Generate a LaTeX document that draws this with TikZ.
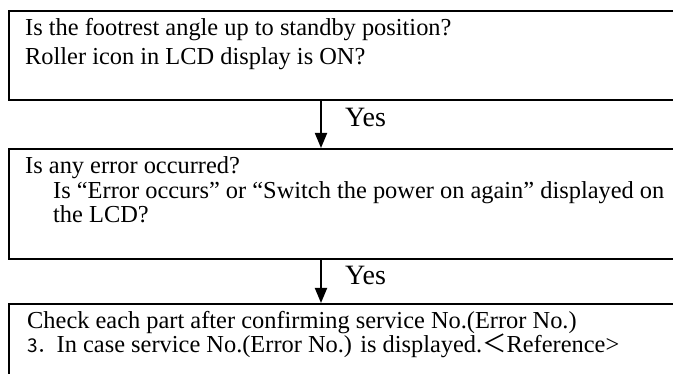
\documentclass[tikz,border=0pt]{standalone}
\usepackage{fontspec}
\setmainfont{Liberation Serif}
\newfontfamily\cjk{Noto Sans CJK JP}
\usetikzlibrary{arrows.meta}

\begin{document}
\begin{tikzpicture}[x=1pt,y=-1pt,
    stepbox/.style={draw,line width=1.8pt,anchor=north west,inner sep=0pt,minimum width=720pt},
    boxtext/.style={anchor=base west,inner sep=0pt,align=left,font=\fontsize{24.4}{24.8}\selectfont},
    flow/.style={line width=1.8pt,-{Triangle[length=15pt,width=12pt]}},
    yes/.style={anchor=base west,inner sep=0pt,font=\fontsize{28}{30}\selectfont}]
      \useasboundingbox (0,0) rectangle (673,374);
      \clip (0,0) rectangle (673,374);
      % the three boxes, cut off at the right edge
      \node[stepbox,minimum height=89pt] (q1) at (8,10) {};
      \node[stepbox,minimum height=110pt] (q2) at (8,148) {};
      \node[stepbox,minimum height=100pt] (q3) at (8,303) {};
      % texts (base = last line)
      \node[boxtext,font=\fontsize{24.4}{29}\selectfont] (t1) at (25,65)
        {Is the footrest angle up to standby position?\\
         Roller icon in LCD display is ON?};
      \node[boxtext] (t2) at (25,223)
        {Is any error occurred?\\
         \hspace*{28pt}Is “Error occurs” or “Switch the power on again” displayed on\\
         \hspace*{28pt}the LCD?};
      \node[boxtext] (t3) at (27,353)
        {Check each part after confirming service No.(Error No.)\\
         {\cjk\fontsize{19}{25}\selectfont 3．}In case service No.(Error No.) is displayed.{\cjk ＜}Reference>};
      % arrows
      \draw[flow] ([xshift=313pt]q1.south west) -- ([xshift=313pt]q2.north west);
      \draw[flow] ([xshift=313pt]q2.south west) -- ([xshift=313pt]q3.north west);
      \node[yes] (y1) at (345,127) {Yes};
      \node[yes] (y2) at (345,285) {Yes};
    \end{tikzpicture}
\end{document}
